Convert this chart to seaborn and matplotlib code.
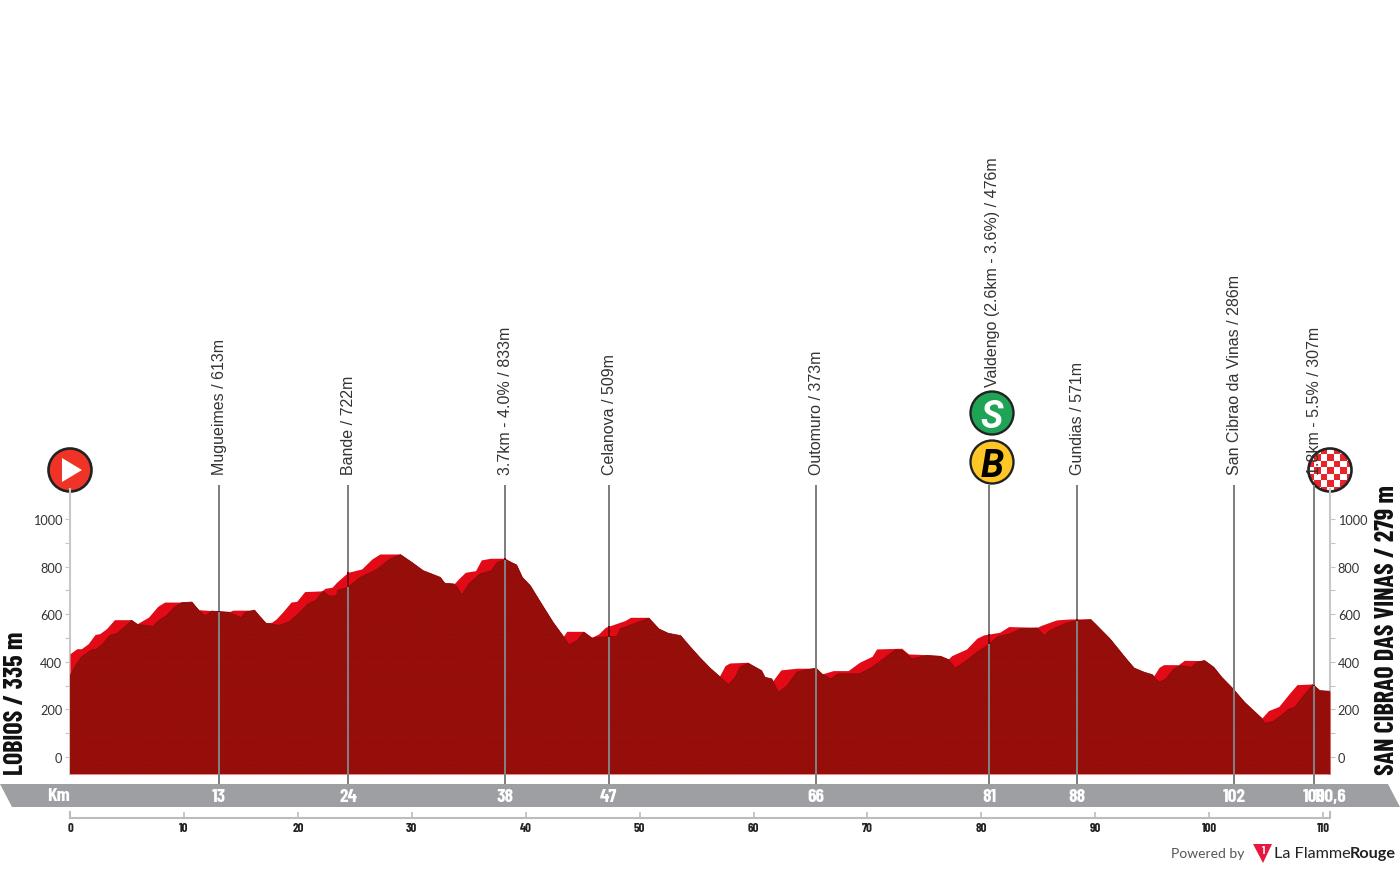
import warnings
import logging
import numpy as np
import pandas as pd
import seaborn as sns
import matplotlib
matplotlib.use("Agg")
import matplotlib.pyplot as plt
from matplotlib.patches import Circle, Polygon, Rectangle

logging.getLogger("matplotlib.font_manager").setLevel(logging.ERROR)

# bright red front of the relief
km_top = [0, 0.6, 1.0, 1.6, 2.2, 2.6, 3.2, 3.9, 5.4, 5.9, 6.4, 6.9, 7.7, 8.3, 10.7, 11.3, 13, 14, 14.3, 16.2,
          16.6, 17.2, 17.7, 18.1, 18.7, 19.4, 19.9, 20.6, 22.1, 22.4, 23, 23.4, 23.9, 24.4, 25.6, 26.5, 27.2, 29,
          30, 31, 32.5, 32.9, 33.7, 34.1, 34.7, 35.6, 36.1, 36.9, 38.2, 39.2, 39.7, 40.4, 41.3, 42.4, 43.3, 43.6,
          45.1, 45.8, 46.4, 47, 48.7, 49.2, 50.8, 51.7, 52.5, 53.6, 54.4, 55.3, 56.2, 57, 57.5, 57.9, 59.5, 60.7,
          61, 61.6, 61.7, 62.4, 63.8, 65.5, 66, 67, 68.3, 69.3, 70.4, 70.8, 73, 73.6, 75.2, 76.4, 77.1, 77.4,
          78.7, 79.6, 80.2, 81.6, 82.4, 84.9, 85.2, 86, 86.6, 87.8, 89.6, 90, 91.3, 92.6, 93.4, 94.3, 95, 95.1,
          95.6, 96, 97.3, 97.8, 99.6, 100.4, 101.1, 102.1, 103.1, 104.2, 104.6, 105.2, 106.1, 107, 107.7, 109.1,
          109.7, 110.6]
elev_top = [434, 455, 455, 476, 515, 518, 539, 577, 577, 560, 574, 588, 633, 651, 651, 619, 613, 611, 617, 617,
            594, 562, 566, 580, 611, 651, 654, 695, 698, 709, 713, 734, 755, 776, 790, 832, 853, 853,
            818, 783, 755, 730, 727, 748, 776, 783, 828, 835, 835, 807, 755, 720, 650, 566, 507, 528,
            528, 503, 517, 545, 573, 587, 587, 538, 520, 510, 465, 417, 373, 339, 384, 395, 398, 363,
            335, 328, 321, 366, 373, 373, 349, 363, 363, 398, 423, 454, 457, 433, 430, 426, 412, 426,
            454, 499, 513, 524, 548, 545, 552, 566, 576, 580, 580, 559, 496, 419, 374, 356, 346, 339,
            377, 388, 388, 406, 405, 377, 335, 286, 230, 181, 163, 195, 212, 265, 304, 307,
            279, 276]

# darker relief behind it
km_back = [0, 0.4, 1, 1.9, 2.3, 2.9, 3.5, 4.1, 4.8, 5.4, 5.9, 7.3, 7.7, 8.5, 9.1, 9.8, 10.7, 11.3, 11.9, 12.4,
           14, 15, 15.4, 16.2, 16.6, 17.2, 18.4, 19.3, 20.2, 20.9, 21.6, 22.2, 22.8, 23.4, 23.5, 24.4, 25.5, 26.9,
           28.1, 29, 30, 31, 32.5, 32.9, 33.7, 34, 34.4, 35, 36, 37, 37.5, 38.2, 39.2, 39.7, 40.4, 41.3, 42.4,
           43.3, 43.8, 44.5, 45.1, 45.8, 46.5, 48, 48.3, 50.8, 51.7, 52.5, 53.6, 54.4, 55.3, 56.2, 57, 57.8,
           58.4, 58.8, 59.5, 60.7, 61, 61.6, 61.7, 62.2, 62.9, 63.8, 64.6, 65.5, 66, 66.8, 67.4, 69.3, 70.4, 71.7,
           72.5, 73.1, 73.9, 75.2, 76.4, 77.1, 77.7, 78.7, 79.6, 80.6, 81.5, 82.5, 83.4, 84.9, 85.5, 86, 86.6,
           87.5, 88.4, 89.6, 90, 91.3, 92.6, 93.4, 94.3, 95, 95.6, 96.2, 96.9, 97.5, 98.4, 99, 99.6, 100.4, 101.1,
           102.1, 103.1, 104.2, 104.6, 104.9, 105.6, 106.5, 107, 107.5, 108.3, 109.1, 109.7, 110.6]
elev_back = [340, 378, 420, 450, 452, 476, 511, 518, 546, 574, 557, 549, 570, 595, 626, 648, 651, 616, 592, 613,
             608, 585, 608, 617, 594, 562, 553, 570, 609, 644, 658, 696, 675, 679, 700, 713, 755, 787,
             832, 850, 818, 783, 755, 730, 727, 713, 681, 727, 769, 783, 818, 829, 807, 755, 720, 650, 566,
             507, 471, 489, 524, 499, 503, 507, 538, 583, 538, 520, 510, 465, 417, 373, 339, 304,
             335, 377, 394, 363, 335, 328, 317, 272, 297, 356, 366, 373, 349, 328, 349, 349, 377, 423,
             451, 447, 412, 426, 423, 409, 373, 405, 440, 471, 507, 517, 538, 542, 510, 531, 545,
             563, 573, 577, 559, 496, 419, 374, 356, 346, 314, 328, 370, 384, 377, 400, 405, 377, 335,
             286, 230, 181, 163, 142, 149, 181, 202, 209, 258, 304, 279, 276]

marker_km = [13.1, 24.4, 38.2, 47.3, 65.5, 80.7, 88.4, 102.2, 109.2]
marker_km_label = ["13", "24", "38", "47", "66", "81", "88", "102", "109"]
marker_names = ["Mugueimes / 613m", "Bande / 722m", "3.7km - 4.0% / 833m", "Celanova / 509m", "Outomuro / 373m",
                "Valdengo (2.6km - 3.6%) / 476m", "Gundias / 571m", "San Cibrao da Vinas / 286m",
                "1.8km - 5.5% / 307m"]
km_total = 110.6
start_name = "LOBIOS / 335 m"
finish_name = "SAN CIBRAO DAS VINAS / 279 m"

top = pd.DataFrame({"km": km_top, "m": elev_top})
back = pd.DataFrame({"km": km_back, "m": elev_back})

condensed = ["Barlow Condensed", "Roboto Condensed", "DejaVu Sans"]
narrow = ["Liberation Sans", "DejaVu Sans"]
W, H = 1400, 870

sns.set_theme(style="white")
plt.rcParams["font.family"] = ["Lato", "DejaVu Sans"]
plt.rcParams["hatch.linewidth"] = 0.4
warnings.filterwarnings("ignore")

fig = plt.figure(figsize=(W / 100, H / 100), dpi=100)

# overlay in pixels for the band and the logos, below the chart
px = fig.add_axes([0, 0, 1, 1], zorder=0)
px.set_xlim(0, W)
px.set_ylim(H, 0)
px.axis("off")

# chart area: y 0 m at pixel 758, 0.238 px per metre
def ypos(p):
    return (758 - p) / 0.238

ax = fig.add_axes([70 / W, 1 - 775 / H, 1260 / W, (775 - 490) / H], zorder=1)
ax.patch.set_alpha(0)
ax.set_xlim(0, km_total)
ax.set_ylim(ypos(775), ypos(490))

px.add_patch(Polygon([(0, 785), (1388, 785), (1400, 808), (12, 808)], color="#9d9fa2", lw=0))

ax.fill_between(top["km"], ypos(775), top["m"], color="#e30a17", lw=0, zorder=2)
ax.fill_between(back["km"], ypos(775), back["m"], facecolor="#9a0f0b", edgecolor="#860c09", hatch="........", lw=0,
                zorder=3)
sns.lineplot(data=back, x="km", y="m", ax=ax, color="#8a0c09", lw=0.6, sort=False, errorbar=None, zorder=3)

ax.set_xlabel("")
ax.set_ylabel("")
ax.set_xticks([])
ax.set_yticks(range(0, 1001, 200))
ax.set_yticks(range(100, 1000, 200), minor=True)
ax.tick_params(axis="y", which="both", left=True, right=True, labelleft=True, labelright=True, length=3.6, width=0.8,
               color="#c4c4c4", labelsize=9.2, labelcolor="#333333", pad=2)
ax.tick_params(axis="y", which="minor", labelleft=False, labelright=False)
for side in ["top", "bottom"]:
    ax.spines[side].set_visible(False)
for side in ["left", "right"]:
    ax.spines[side].set_color("#c8c8c8")
    ax.spines[side].set_linewidth(1.5)
    ax.spines[side].set_zorder(1)

# km ruler under the band
ruler = fig.add_axes([70 / W, 1 - 819 / H, 1260 / W, 6 / H], zorder=1)
ruler.patch.set_alpha(0)
ruler.set_xlim(0, km_total)
ruler.set_yticks([])
ruler.set_xticks(range(0, 111, 10))
ruler.tick_params(axis="x", bottom=True, direction="in", length=4.3, width=1.2, color="#bcbcbc", labelsize=9.2, pad=3,
                  labelcolor="#222222")
for lab in ruler.get_xticklabels():
    lab.set_family(condensed)
    lab.set_weight("bold")
ruler.spines["top"].set_visible(False)
for side in ["left", "right", "bottom"]:
    ruler.spines[side].set_color("#bcbcbc")
    ruler.spines[side].set_linewidth(1.5)

# icons
start = Circle((70, 471), 21.5, fc="#ef3326", ec="#222222", lw=1.9, zorder=2)
px.add_patch(start)
px.add_patch(Polygon([(62, 459), (82, 471), (62, 483)], color="white", lw=0, zorder=3))

finish = Circle((1330, 471), 21.5, fc="white", ec="none", zorder=2)
px.add_patch(finish)
for i in range(7):
    for j in range(7):
        if (i + j) % 2 == 0:
            cell = Rectangle((1307.5 + i * 6.5, 448.5 + j * 6.5), 6.5, 6.5, color="#e8232a", lw=0, zorder=2)
            px.add_patch(cell)
            cell.set_clip_path(finish)
px.add_patch(Circle((1330, 471), 21.5, fc="none", ec="#222222", lw=1.9, zorder=3))

px.add_patch(Circle((992, 414), 21.5, fc="#1fa354", ec="#222222", lw=1.7, zorder=2))
px.text(992, 414, "S", color="white", fontsize=27, weight="bold", style="italic", ha="center", va="center_baseline",
        family=["Roboto", "DejaVu Sans"], zorder=3)
px.add_patch(Circle((992, 463), 21.5, fc="#ffc726", ec="#222222", lw=1.7, zorder=2))
px.text(992, 463, "B", color="black", fontsize=27, weight="bold", style="italic", ha="center", va="center_baseline",
        family=["Roboto", "DejaVu Sans"], zorder=3)

# markers: line, name above it, km in the band
top_layer = fig.add_axes(ax.get_position(), zorder=2)
top_layer.patch.set_alpha(0)
top_layer.axis("off")
top_layer.set_xlim(ax.get_xlim())
top_layer.set_ylim(ax.get_ylim())

for k, lab, name in zip(marker_km, marker_km_label, marker_names):
    top_layer.plot([k, k], [ypos(785), ypos(486)], color="#808080", lw=1.44, clip_on=False, solid_capstyle="butt")
    hi = np.interp(k, top["km"], top["m"])
    lo = np.interp(k, back["km"], back["m"])
    top_layer.plot([k, k], [lo, hi], color="#7c0208", lw=1.44, clip_on=False, solid_capstyle="butt")
    raised = name.startswith("Valdengo")
    xt = k + (3.5 / 11.39 if raised else 0.5 / 11.39)
    yt = ypos(387) if raised else ypos(475)
    top_layer.text(xt, yt, name, rotation=90, ha="center", va="bottom", fontsize=11.5, color="#333333",
                   family=narrow, clip_on=False)
    top_layer.text(k, ypos(798), lab, ha="center", va="center", fontsize=14, color="white", weight="bold",
                   family=condensed, clip_on=False)

top_layer.text(km_total, ypos(798), "110,6", ha="center", va="center", fontsize=14, color="white", weight="bold",
               family=condensed, clip_on=False)
px.text(70, 797, "Km", ha="right", va="center", fontsize=14, color="white", weight="bold", family=condensed)

# start and finish names
px.text(16, 775, start_name, rotation=90, ha="center", va="bottom", fontsize=18.7, color="#111111", weight="bold",
        family=condensed)
px.text(1387, 775, finish_name, rotation=90, ha="center", va="bottom", fontsize=18.7, color="#111111", weight="bold",
        family=condensed)

# credit
px.text(1244, 854, "Powered by", ha="right", va="center", fontsize=10, color="#555555")
px.add_patch(Polygon([(1253, 845), (1272, 845), (1263, 864)], color="#e8173f", lw=0))
px.text(1263, 851, "1", ha="center", va="center", fontsize=8, color="white", weight="bold", family=condensed)
t1 = px.text(1274, 854, "La Flamme", ha="left", va="center", fontsize=11.7, color="#222222")
fig.canvas.draw()
box = t1.get_window_extent()
px.text(box.x1 - 1, 854, "Rouge", ha="left", va="center", fontsize=11.7, color="#222222", weight="bold")

fig.savefig("out.png", dpi=100)
